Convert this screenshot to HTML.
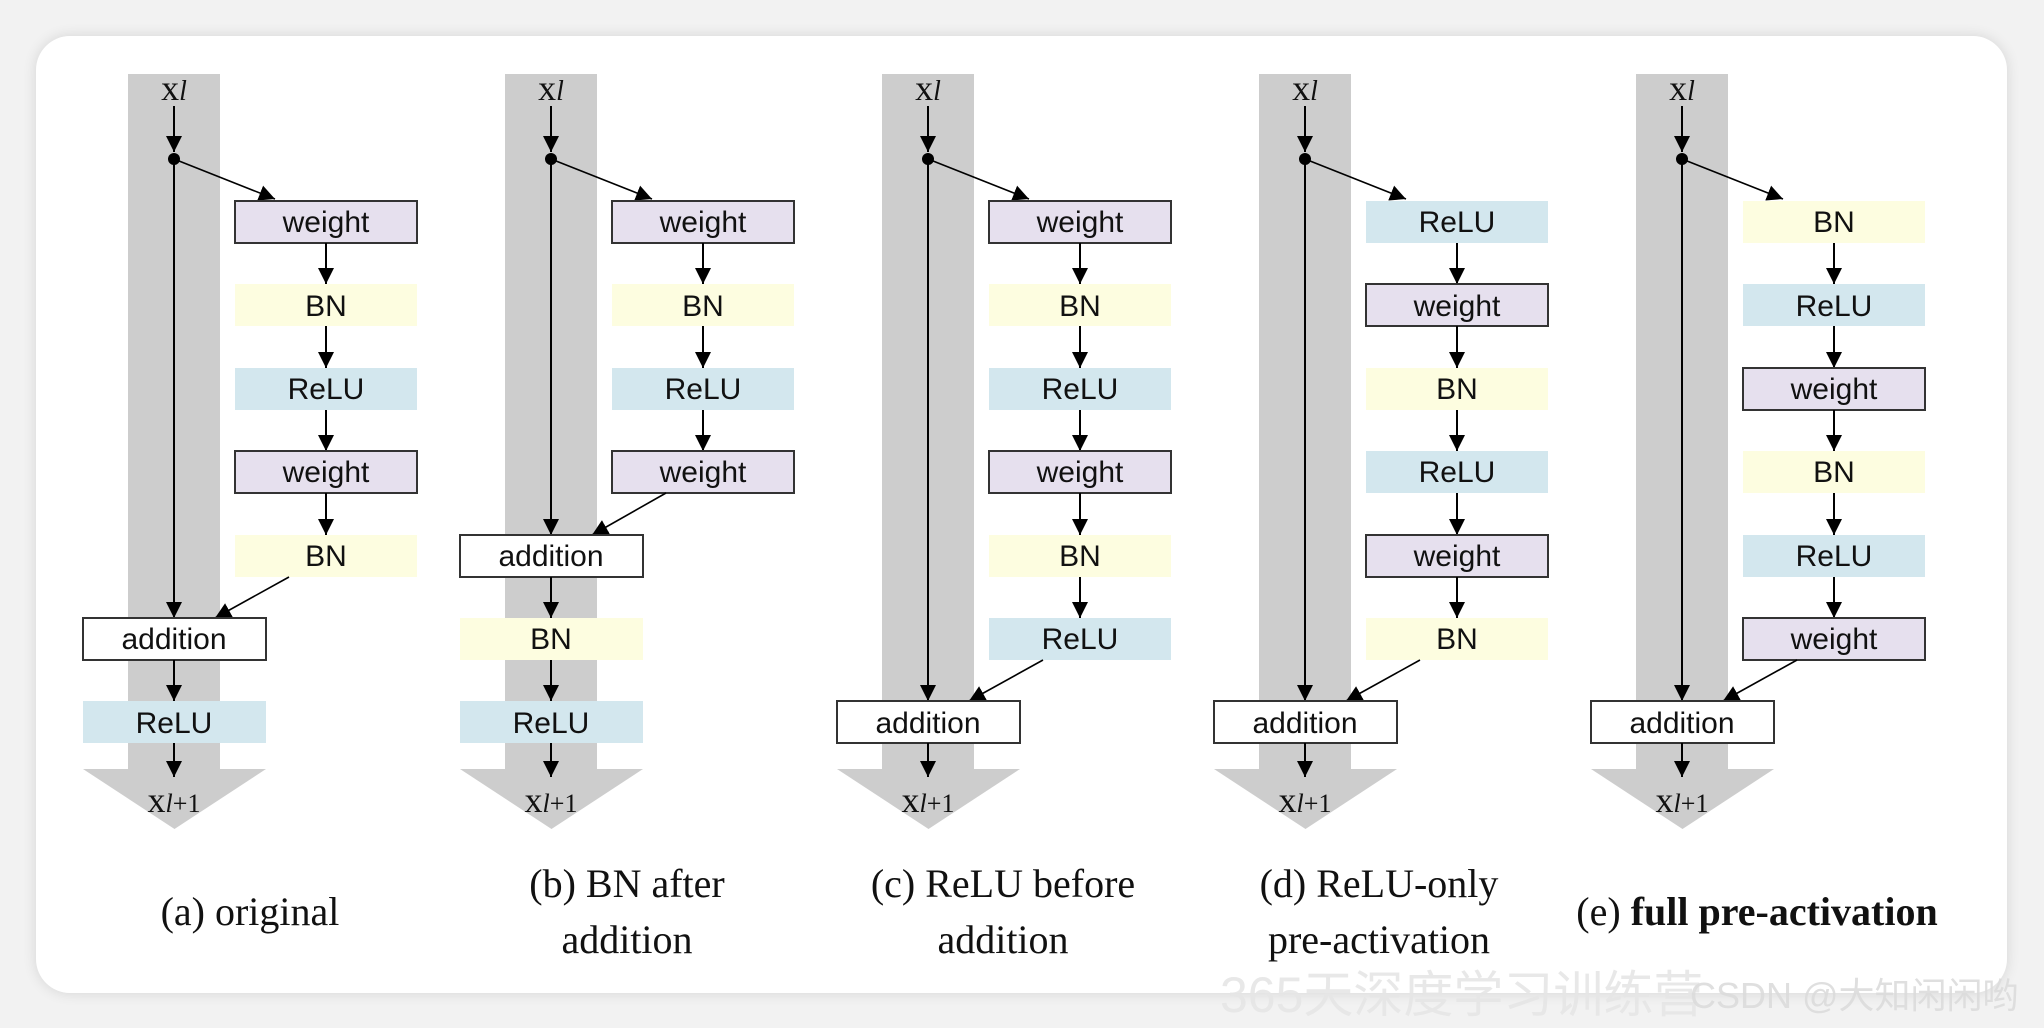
<!DOCTYPE html>
<html><head><meta charset="utf-8"><style>
html,body{margin:0;padding:0;background:#f2f2f2;}
body{width:2044px;height:1028px;overflow:hidden;position:relative;}
.card{position:absolute;left:36px;top:36px;width:1971px;height:957px;background:#fff;border-radius:34px;box-shadow:0 0 14px rgba(0,0,0,0.12);}
svg{position:absolute;left:0;top:0;}
.bt{font-family:"Liberation Sans","DejaVu Sans",sans-serif;font-size:30px;fill:#111;text-anchor:middle;}
.sr{font-family:"Liberation Serif",serif;fill:#111;text-anchor:middle;}
</style></head><body>
<div class="card"></div>
<svg width="2044" height="1028" viewBox="0 0 2044 1028">
<defs>
<marker id="ah" viewBox="0 0 10 10" refX="10" refY="5" markerWidth="16" markerHeight="16" markerUnits="userSpaceOnUse" orient="auto"><path d="M0,0 L10,5 L0,10 z" fill="#000"/></marker>
<g id="base">
<rect x="128" y="74" width="92" height="695" fill="#cdcdcd"/>
<polygon points="83,769 266,769 174.5,829" fill="#cdcdcd"/>
<text class="sr" x="174" y="100" font-size="36">x<tspan font-style="italic" font-size="28">l</tspan></text>
<text class="sr" x="174" y="812" font-size="36">x<tspan font-style="italic" font-size="26">l</tspan><tspan font-size="26">+1</tspan></text>
<line x1="174" y1="106" x2="174" y2="152" stroke="#000" stroke-width="2" marker-end="url(#ah)"/>
<circle cx="174" cy="159" r="6" fill="#000"/>
<line x1="174" y1="159" x2="275" y2="199" stroke="#000" stroke-width="1.6" marker-end="url(#ah)"/>
</g>
</defs>

<!-- Panel a -->
<g transform="translate(0,0)">
<use href="#base"/>
<line x1="174" y1="159" x2="174" y2="618" stroke="#000" stroke-width="2" marker-end="url(#ah)"/>
<rect x="235" y="201" width="182" height="42" fill="#e6e0ee" stroke="#333" stroke-width="2"/><text class="bt" x="326" y="232">weight</text>
<line x1="326" y1="243" x2="326" y2="284" stroke="#000" stroke-width="2" marker-end="url(#ah)"/>
<rect x="235" y="284" width="182" height="42" fill="#fdfde0"/><text class="bt" x="326" y="316">BN</text>
<line x1="326" y1="326" x2="326" y2="368" stroke="#000" stroke-width="2" marker-end="url(#ah)"/>
<rect x="235" y="368" width="182" height="42" fill="#d3e7ee"/><text class="bt" x="326" y="399">ReLU</text>
<line x1="326" y1="410" x2="326" y2="451" stroke="#000" stroke-width="2" marker-end="url(#ah)"/>
<rect x="235" y="451" width="182" height="42" fill="#e6e0ee" stroke="#333" stroke-width="2"/><text class="bt" x="326" y="482">weight</text>
<line x1="326" y1="493" x2="326" y2="535" stroke="#000" stroke-width="2" marker-end="url(#ah)"/>
<rect x="235" y="535" width="182" height="42" fill="#fdfde0"/><text class="bt" x="326" y="566">BN</text>
<line x1="289" y1="577" x2="215" y2="618" stroke="#000" stroke-width="1.6" marker-end="url(#ah)"/>
<rect x="83" y="618" width="183" height="42" fill="#fff" stroke="#333" stroke-width="2"/><text class="bt" x="174" y="649">addition</text>
<line x1="174" y1="660" x2="174" y2="701" stroke="#000" stroke-width="2" marker-end="url(#ah)"/>
<rect x="83" y="701" width="183" height="42" fill="#d3e7ee"/><text class="bt" x="174" y="733">ReLU</text>
<line x1="174" y1="743" x2="174" y2="777" stroke="#000" stroke-width="2" marker-end="url(#ah)"/>
<text class="sr" x="250" y="925" font-size="40">(a) original</text>
</g>

<!-- Panel b -->
<g transform="translate(377,0)">
<use href="#base"/>
<line x1="174" y1="159" x2="174" y2="535" stroke="#000" stroke-width="2" marker-end="url(#ah)"/>
<rect x="235" y="201" width="182" height="42" fill="#e6e0ee" stroke="#333" stroke-width="2"/><text class="bt" x="326" y="232">weight</text>
<line x1="326" y1="243" x2="326" y2="284" stroke="#000" stroke-width="2" marker-end="url(#ah)"/>
<rect x="235" y="284" width="182" height="42" fill="#fdfde0"/><text class="bt" x="326" y="316">BN</text>
<line x1="326" y1="326" x2="326" y2="368" stroke="#000" stroke-width="2" marker-end="url(#ah)"/>
<rect x="235" y="368" width="182" height="42" fill="#d3e7ee"/><text class="bt" x="326" y="399">ReLU</text>
<line x1="326" y1="410" x2="326" y2="451" stroke="#000" stroke-width="2" marker-end="url(#ah)"/>
<rect x="235" y="451" width="182" height="42" fill="#e6e0ee" stroke="#333" stroke-width="2"/><text class="bt" x="326" y="482">weight</text>
<line x1="289" y1="493" x2="215" y2="535" stroke="#000" stroke-width="1.6" marker-end="url(#ah)"/>
<rect x="83" y="535" width="183" height="42" fill="#fff" stroke="#333" stroke-width="2"/><text class="bt" x="174" y="566">addition</text>
<line x1="174" y1="577" x2="174" y2="618" stroke="#000" stroke-width="2" marker-end="url(#ah)"/>
<rect x="83" y="618" width="183" height="42" fill="#fdfde0"/><text class="bt" x="174" y="649">BN</text>
<line x1="174" y1="660" x2="174" y2="701" stroke="#000" stroke-width="2" marker-end="url(#ah)"/>
<rect x="83" y="701" width="183" height="42" fill="#d3e7ee"/><text class="bt" x="174" y="733">ReLU</text>
<line x1="174" y1="743" x2="174" y2="777" stroke="#000" stroke-width="2" marker-end="url(#ah)"/>
<text class="sr" x="250" y="897" font-size="40">(b) BN after</text>
<text class="sr" x="250" y="953" font-size="40">addition</text>
</g>

<!-- Panel c -->
<g transform="translate(754,0)">
<use href="#base"/>
<line x1="174" y1="159" x2="174" y2="701" stroke="#000" stroke-width="2" marker-end="url(#ah)"/>
<rect x="235" y="201" width="182" height="42" fill="#e6e0ee" stroke="#333" stroke-width="2"/><text class="bt" x="326" y="232">weight</text>
<line x1="326" y1="243" x2="326" y2="284" stroke="#000" stroke-width="2" marker-end="url(#ah)"/>
<rect x="235" y="284" width="182" height="42" fill="#fdfde0"/><text class="bt" x="326" y="316">BN</text>
<line x1="326" y1="326" x2="326" y2="368" stroke="#000" stroke-width="2" marker-end="url(#ah)"/>
<rect x="235" y="368" width="182" height="42" fill="#d3e7ee"/><text class="bt" x="326" y="399">ReLU</text>
<line x1="326" y1="410" x2="326" y2="451" stroke="#000" stroke-width="2" marker-end="url(#ah)"/>
<rect x="235" y="451" width="182" height="42" fill="#e6e0ee" stroke="#333" stroke-width="2"/><text class="bt" x="326" y="482">weight</text>
<line x1="326" y1="493" x2="326" y2="535" stroke="#000" stroke-width="2" marker-end="url(#ah)"/>
<rect x="235" y="535" width="182" height="42" fill="#fdfde0"/><text class="bt" x="326" y="566">BN</text>
<line x1="326" y1="577" x2="326" y2="618" stroke="#000" stroke-width="2" marker-end="url(#ah)"/>
<rect x="235" y="618" width="182" height="42" fill="#d3e7ee"/><text class="bt" x="326" y="649">ReLU</text>
<line x1="289" y1="660" x2="215" y2="701" stroke="#000" stroke-width="1.6" marker-end="url(#ah)"/>
<rect x="83" y="701" width="183" height="42" fill="#fff" stroke="#333" stroke-width="2"/><text class="bt" x="174" y="733">addition</text>
<line x1="174" y1="743" x2="174" y2="777" stroke="#000" stroke-width="2" marker-end="url(#ah)"/>
<text class="sr" x="249" y="897" font-size="40">(c) ReLU before</text>
<text class="sr" x="249" y="953" font-size="40">addition</text>
</g>

<!-- Panel d -->
<g transform="translate(1131,0)">
<use href="#base"/>
<line x1="174" y1="159" x2="174" y2="701" stroke="#000" stroke-width="2" marker-end="url(#ah)"/>
<rect x="235" y="201" width="182" height="42" fill="#d3e7ee"/><text class="bt" x="326" y="232">ReLU</text>
<line x1="326" y1="243" x2="326" y2="284" stroke="#000" stroke-width="2" marker-end="url(#ah)"/>
<rect x="235" y="284" width="182" height="42" fill="#e6e0ee" stroke="#333" stroke-width="2"/><text class="bt" x="326" y="316">weight</text>
<line x1="326" y1="326" x2="326" y2="368" stroke="#000" stroke-width="2" marker-end="url(#ah)"/>
<rect x="235" y="368" width="182" height="42" fill="#fdfde0"/><text class="bt" x="326" y="399">BN</text>
<line x1="326" y1="410" x2="326" y2="451" stroke="#000" stroke-width="2" marker-end="url(#ah)"/>
<rect x="235" y="451" width="182" height="42" fill="#d3e7ee"/><text class="bt" x="326" y="482">ReLU</text>
<line x1="326" y1="493" x2="326" y2="535" stroke="#000" stroke-width="2" marker-end="url(#ah)"/>
<rect x="235" y="535" width="182" height="42" fill="#e6e0ee" stroke="#333" stroke-width="2"/><text class="bt" x="326" y="566">weight</text>
<line x1="326" y1="577" x2="326" y2="618" stroke="#000" stroke-width="2" marker-end="url(#ah)"/>
<rect x="235" y="618" width="182" height="42" fill="#fdfde0"/><text class="bt" x="326" y="649">BN</text>
<line x1="289" y1="660" x2="215" y2="701" stroke="#000" stroke-width="1.6" marker-end="url(#ah)"/>
<rect x="83" y="701" width="183" height="42" fill="#fff" stroke="#333" stroke-width="2"/><text class="bt" x="174" y="733">addition</text>
<line x1="174" y1="743" x2="174" y2="777" stroke="#000" stroke-width="2" marker-end="url(#ah)"/>
<text class="sr" x="248" y="897" font-size="40">(d) ReLU-only</text>
<text class="sr" x="248" y="953" font-size="40">pre-activation</text>
</g>

<!-- Panel e -->
<g transform="translate(1508,0)">
<use href="#base"/>
<line x1="174" y1="159" x2="174" y2="701" stroke="#000" stroke-width="2" marker-end="url(#ah)"/>
<rect x="235" y="201" width="182" height="42" fill="#fdfde0"/><text class="bt" x="326" y="232">BN</text>
<line x1="326" y1="243" x2="326" y2="284" stroke="#000" stroke-width="2" marker-end="url(#ah)"/>
<rect x="235" y="284" width="182" height="42" fill="#d3e7ee"/><text class="bt" x="326" y="316">ReLU</text>
<line x1="326" y1="326" x2="326" y2="368" stroke="#000" stroke-width="2" marker-end="url(#ah)"/>
<rect x="235" y="368" width="182" height="42" fill="#e6e0ee" stroke="#333" stroke-width="2"/><text class="bt" x="326" y="399">weight</text>
<line x1="326" y1="410" x2="326" y2="451" stroke="#000" stroke-width="2" marker-end="url(#ah)"/>
<rect x="235" y="451" width="182" height="42" fill="#fdfde0"/><text class="bt" x="326" y="482">BN</text>
<line x1="326" y1="493" x2="326" y2="535" stroke="#000" stroke-width="2" marker-end="url(#ah)"/>
<rect x="235" y="535" width="182" height="42" fill="#d3e7ee"/><text class="bt" x="326" y="566">ReLU</text>
<line x1="326" y1="577" x2="326" y2="618" stroke="#000" stroke-width="2" marker-end="url(#ah)"/>
<rect x="235" y="618" width="182" height="42" fill="#e6e0ee" stroke="#333" stroke-width="2"/><text class="bt" x="326" y="649">weight</text>
<line x1="289" y1="660" x2="215" y2="701" stroke="#000" stroke-width="1.6" marker-end="url(#ah)"/>
<rect x="83" y="701" width="183" height="42" fill="#fff" stroke="#333" stroke-width="2"/><text class="bt" x="174" y="733">addition</text>
<line x1="174" y1="743" x2="174" y2="777" stroke="#000" stroke-width="2" marker-end="url(#ah)"/>
</g>
<text class="sr" x="1757" y="925" font-size="40">(e) <tspan font-weight="bold">full pre-activation</tspan></text>

<text x="1220" y="1012" font-family="'Liberation Sans','Noto Sans CJK SC',sans-serif" font-size="50" fill="#e6e6e6" opacity="0.9">365天深度学习训练营</text>
<text x="1690" y="1008" font-family="'Liberation Sans','Noto Sans CJK SC',sans-serif" font-size="36" fill="#dcdcdc" opacity="0.9">CSDN @大知闲闲哟</text>
</svg>
</body></html>
